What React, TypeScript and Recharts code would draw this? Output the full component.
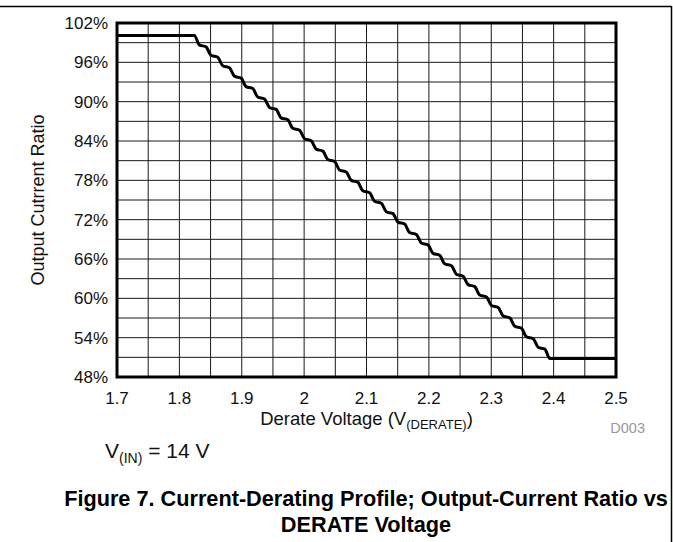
import React from "react";
import {
  LineChart,
  Line,
  XAxis,
  YAxis,
  CartesianGrid,
  ReferenceArea,
} from "recharts";

// derate voltage (V) of each traced point on the curve
const deratePoints = [
  1.7, 1.824, 1.832, 1.8427, 1.8507, 1.8615, 1.8695, 1.8802, 1.8882, 1.8989,
  1.9069, 1.9177, 1.9257, 1.9364, 1.9444, 1.9551, 1.9631, 1.9738, 1.9818,
  1.9926, 2.0006, 2.0113, 2.0193, 2.03, 2.038, 2.0488, 2.0568, 2.0675, 2.0755,
  2.0862, 2.0942, 2.105, 2.113, 2.1237, 2.1317, 2.1424, 2.1504, 2.1611, 2.1691,
  2.1799, 2.1879, 2.1986, 2.2066, 2.2173, 2.2253, 2.2361, 2.2441, 2.2548,
  2.2628, 2.2735, 2.2815, 2.2923, 2.3003, 2.311, 2.319, 2.3297, 2.3377, 2.3484,
  2.3564, 2.3672, 2.3752, 2.3859, 2.3939, 2.5,
];

// output current ratio (%) at those points
const ratioPoints = [
  100.1, 100.1, 98.66, 98.36, 97.07, 96.77, 95.48, 95.18, 93.89, 93.59, 92.3,
  92.0, 90.71, 90.41, 89.12, 88.82, 87.53, 87.23, 85.94, 85.64, 84.35, 84.05,
  82.76, 82.46, 81.17, 80.87, 79.58, 79.28, 77.99, 77.69, 76.4, 76.1, 74.81,
  74.51, 73.22, 72.92, 71.63, 71.33, 70.04, 69.74, 68.45, 68.15, 66.86, 66.56,
  65.27, 64.97, 63.68, 63.38, 62.09, 61.79, 60.5, 60.2, 58.91, 58.61, 57.32,
  57.02, 55.73, 55.43, 54.14, 53.84, 52.55, 52.25, 50.81, 50.81,
];

const xTicks = [
  1.7, 1.75, 1.8, 1.85, 1.9, 1.95, 2.0, 2.05, 2.1, 2.15, 2.2, 2.25, 2.3, 2.35,
  2.4, 2.45, 2.5,
];
const xTickLabels = ["1.7", "1.8", "1.9", "2", "2.1", "2.2", "2.3", "2.4", "2.5"];

const yTicks = [
  48, 51, 54, 57, 60, 63, 66, 69, 72, 75, 78, 81, 84, 87, 90, 93, 96, 99, 102,
];
const yTickLabels = [48, 54, 60, 66, 72, 78, 84, 90, 96, 102];

const data = deratePoints.map((v, i) => ({ v, ratio: ratioPoints[i] }));

const FONT = "'Liberation Sans', Arial, sans-serif";

const fmtX = (v: number) => {
  const s = String(Number(v.toFixed(2)));
  return xTickLabels.includes(s) ? s : "";
};
const fmtY = (v: number) => (yTickLabels.includes(v) ? `${v}%` : "");

export default function App() {
  return (
    <div
      style={{
        position: "absolute",
        left: 0,
        top: 0,
        width: 673,
        height: 542,
        background: "#fff",
        fontFamily: FONT,
      }}
    >
      <LineChart
        width={673}
        height={542}
        data={data}
        margin={{ top: 23, right: 57, bottom: 135, left: 57 }}
      >
        <CartesianGrid stroke="#1a1a1a" strokeWidth={1} />
        <XAxis
          type="number"
          dataKey="v"
          domain={[1.7, 2.5]}
          ticks={xTicks}
          interval={0}
          tickFormatter={fmtX}
          axisLine={false}
          tickLine={false}
          tickSize={0}
          tickMargin={15}
          height={30}
          tick={{ fill: "#111", fontSize: 17, fontFamily: FONT }}
        />
        <YAxis
          type="number"
          domain={[48, 102]}
          ticks={yTicks}
          interval={0}
          tickFormatter={fmtY}
          axisLine={false}
          tickLine={false}
          tickSize={0}
          tickMargin={9}
          width={60}
          tick={{ fill: "#111", fontSize: 17, fontFamily: FONT }}
        />
        <ReferenceArea
          x1={1.7}
          x2={2.5}
          y1={48}
          y2={102}
          fill="none"
          fillOpacity={0}
          stroke="#000"
          strokeWidth={3}
        />
        <Line
          type="monotone"
          dataKey="ratio"
          stroke="#000"
          strokeWidth={3}
          dot={false}
          isAnimationActive={false}
        />
      </LineChart>

      <svg
        width={673}
        height={542}
        style={{ position: "absolute", left: 0, top: 0, pointerEvents: "none" }}
        fontFamily={FONT}
      >
        <line x1={0} y1={6.5} x2={672} y2={6.5} stroke="#000" strokeWidth={1.5} />
        <line x1={671.5} y1={6} x2={671.5} y2={542} stroke="#000" strokeWidth={1.5} />

        <text
          x={38}
          y={200}
          transform="rotate(-90, 38, 200)"
          textAnchor="middle"
          dominantBaseline="central"
          fontSize={18}
          fill="#111"
        >
          Output Cutrrent Ratio
        </text>

        <text x={366.5} y={425} textAnchor="middle" fontSize={18.5} fill="#111">
          Derate Voltage (V
          <tspan fontSize={13} dy={4}>
            (DERATE)
          </tspan>
          <tspan dy={-4}>)</tspan>
        </text>

        <text x={645} y={433} textAnchor="end" fontSize={14.5} fill="#999">
          D003
        </text>

        <text x={105} y={458} fontSize={21} fill="#111">
          V
          <tspan fontSize={14} dy={5}>
            (IN)
          </tspan>
          <tspan dy={-5}> = 14 V</tspan>
        </text>

        <text x={366} y={505.5} textAnchor="middle" fontSize={21.7} fontWeight="bold" fill="#000">
          Figure 7. Current-Derating Profile; Output-Current Ratio vs
        </text>
        <text x={366} y={531.5} textAnchor="middle" fontSize={21.7} fontWeight="bold" fill="#000">
          DERATE Voltage
        </text>
      </svg>
    </div>
  );
}
